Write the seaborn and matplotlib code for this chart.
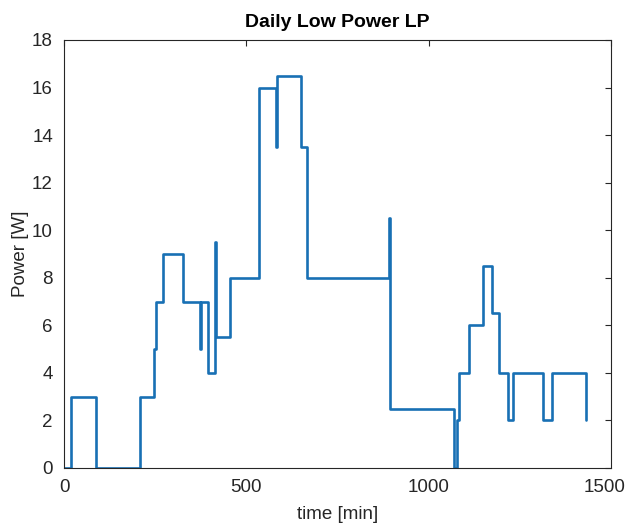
import matplotlib
matplotlib.use("Agg")
import matplotlib.pyplot as plt
import matplotlib.transforms as mtransforms
import seaborn as sns
import pandas as pd

# step change times [min] and power level after each change [W]
time_min = [0, 19, 87, 208, 247, 252, 272, 327, 373, 375, 396, 414, 416, 455,
            535, 580, 583, 650, 667, 891, 895, 1070, 1077, 1082, 1110, 1150,
            1173, 1194, 1217, 1230, 1314, 1339, 1430]
power_w = [0, 3, 0, 3, 5, 7, 9, 7, 5, 7, 4, 9.5, 5.5, 8,
           16, 13.5, 16.5, 13.5, 8, 10.5, 2.5, 0, 2, 4, 6, 8.5,
           6.5, 4, 2, 4, 2, 4, 2]

x_ticks = [0, 500, 1000, 1500]
y_ticks = list(range(0, 19, 2))

df = pd.DataFrame({"time": time_min, "power": power_w})

sns.set_style("white")
plt.rcParams["font.family"] = ["Liberation Sans", "DejaVu Sans"]
ink = "#262626"

fig = plt.figure(figsize=(6.3, 5.26), dpi=100)
ax = fig.add_axes([0.1016, 0.1103, 0.8683, 0.8137])

sns.lineplot(data=df, x="time", y="power", ax=ax, estimator=None,
             drawstyle="steps-post", color="#1870B4", linewidth=1.9)

ax.set_xlim(0, 1500)
ax.set_ylim(0, 18)
ax.set_xticks(x_ticks)
ax.set_yticks(y_ticks)
ax.tick_params(direction="in", top=True, right=True, length=4, width=0.8,
               colors=ink, labelsize=13.5)
ax.tick_params(axis="x", pad=8)
ax.tick_params(axis="y", pad=8)
for s in ax.spines.values():
    s.set_color(ink)
    s.set_linewidth(0.8)
    s.set_visible(True)
ax.set_xlabel("time [min]", fontsize=13.5, color=ink, labelpad=7)
ax.set_ylabel("Power [W]", fontsize=13.5, color=ink, labelpad=2)
ax.set_title("Daily Low Power LP", fontsize=14, fontweight="bold", color="black", pad=9)

# keep the last x tick label inside the figure
last = ax.get_xticklabels()[-1]
last.set_transform(last.get_transform() +
                   mtransforms.ScaledTranslation(-6 / 100, 0, fig.dpi_scale_trans))

fig.savefig("out.png", dpi=100, facecolor="white")
